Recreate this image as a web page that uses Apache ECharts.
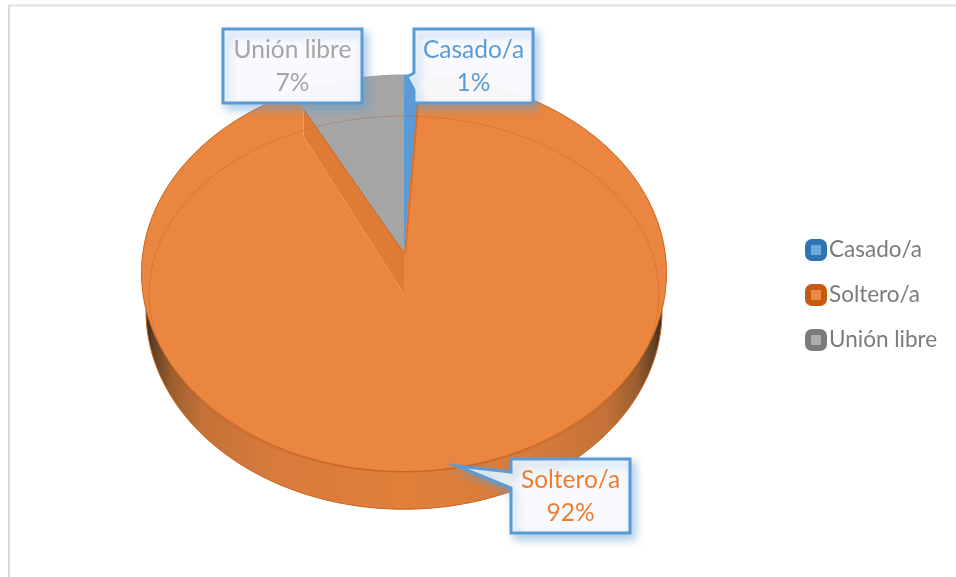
<!DOCTYPE html>
<html>
<head>
<meta charset="utf-8">
<style>html,body{margin:0;padding:0;background:#fff}#c{width:956px;height:577px}</style>
<script src="https://cdn.jsdelivr.net/npm/echarts@6/dist/echarts.min.js"></script>
</head>
<body>
<div id="c"></div>
<script>
const categories = ['Casado/a', 'Soltero/a', 'Unión libre'];
const percents = [1, 92, 7];
const sliceColors = ['#5B9BD5', '#EB8640', '#A5A5A5'];
const labelColors = ['#5B9BD5', '#ED7D31', '#A5A5A5'];
const legendFills = ['#6FA8DC', '#EE8A47', '#ADADAD'];
const legendBorders = ['#2E75B6', '#C55A11', '#7B7B7B'];

const FONT = 'Lato, Carlito, "Noto Sans", sans-serif';
const total = percents.reduce((a, b) => a + b, 0);
const startOf = i => percents.slice(0, i).reduce((a, b) => a + b, 0) / total * Math.PI * 2;

// Layout, in units of the unit-circle axes
const GRID = { left: 141.5, top: 74.5, width: 525, height: 397 };
const FLOOR_Y = 0.10;      // apex of the sunken wedge
const TOP_Y = -0.106;      // apex of the raised surface
const KNEE_T = 0.90;       // where the notch wall meets the rim
const KNEE_DROP = 0.136;
const WALL_DROP = 0.19;
const WALL_RX = 0.983;
const RING = { rx: 0.971, ry: 0.897, cy: -0.106 };

function rim(t) { return [Math.sin(t), Math.cos(t)]; }
function arc(a, b, n) {
  const out = [];
  for (let k = 0; k <= n; k++) out.push(rim(a + (b - a) * k / n));
  return out;
}
function poly(api, pts, style) {
  return { type: 'polygon', shape: { points: pts.map(p => api.coord(p)) }, style };
}
function line(api, pts, style) {
  return { type: 'polyline', shape: { points: pts.map(p => api.coord(p)) }, style: Object.assign({ fill: null }, style) };
}

function renderFlat(i) {
  return function (params, api) {
    const a = startOf(i), b = a + api.value(0) / total * Math.PI * 2;
    return poly(api, [[0, FLOOR_Y]].concat(arc(a, b, 40)), { fill: sliceColors[i], stroke: null });
  };
}

function renderMain(i) {
  return function (params, api) {
    const a = startOf(i), b = a + api.value(0) / total * Math.PI * 2;
    const pEnd = rim(b), pStart = rim(a);
    const q = [pEnd[0] * KNEE_T, FLOOR_Y + (pEnd[1] - FLOOR_Y) * KNEE_T];
    const knee = [q[0], q[1] - KNEE_DROP];
    const surface = arc(a, b, 240).concat([q, knee, [0, TOP_Y], [0, FLOOR_Y]]);
    const wallPts = [];
    for (let k = 0; k <= 120; k++) {
      const t = Math.PI / 2 + Math.PI * k / 120;
      wallPts.push([WALL_RX * Math.sin(t), Math.cos(t) - WALL_DROP]);
    }
    const ringPts = [];
    for (let k = 0; k <= 240; k++) {
      const t = Math.PI * 2 * k / 240;
      ringPts.push([RING.rx * Math.sin(t), RING.cy + RING.ry * Math.cos(t)]);
    }
    return {
      type: 'group',
      children: [
        poly(api, wallPts, {
          stroke: '#C9641C', lineWidth: 1,
          fill: { type: 'linear', x: 0, y: 0, x2: 1, y2: 0, colorStops: [
            { offset: 0, color: '#33281C' }, { offset: 0.015, color: '#5F4026' },
            { offset: 0.05, color: '#9C5E2E' }, { offset: 0.11, color: '#C47238' },
            { offset: 0.25, color: '#D87B3B' }, { offset: 0.5, color: '#E08039' },
            { offset: 0.75, color: '#D87B3B' }, { offset: 0.89, color: '#C47238' },
            { offset: 0.95, color: '#9C5E2E' }, { offset: 0.985, color: '#5F4026' },
            { offset: 1, color: '#33281C' } ] }
        }),
        poly(api, surface, { fill: sliceColors[i], stroke: null }),
        poly(api, [[0, FLOOR_Y], [0, TOP_Y], knee, q], { fill: '#DE7C35', stroke: null }),
        line(api, [[0, FLOOR_Y], q], { stroke: '#C9641C', lineWidth: 1 }),
        line(api, [[0.004, FLOOR_Y], pStart], { stroke: '#DB6F28', lineWidth: 2 }),
        line(api, ringPts, { stroke: 'rgba(150,70,20,0.25)', lineWidth: 1 }),
        line(api, arc(a, b, 240), { stroke: '#C9641C', lineWidth: 1 })
      ]
    };
  };
}

const boxes = [
  { l: 414, r: 533, t: 29, b: 103, tip: [407, 77], py: [73, 90] },
  { l: 511, r: 630, t: 459, b: 533, tip: [457, 466], py: [472, 488] },
  { l: 223, r: 362, t: 29, b: 103 }
];

const callouts = [];
boxes.forEach((bx, i) => {
  const pts = [[bx.l, bx.t], [bx.r, bx.t], [bx.r, bx.b], [bx.l, bx.b]];
  if (bx.tip) pts.push([bx.l, bx.py[1]], bx.tip, [bx.l, bx.py[0]]);
  callouts.push({
    type: 'polygon', z: 100,
    shape: { points: pts },
    style: { fill: 'rgba(252,252,254,0.95)', stroke: '#5B9BD5', lineWidth: 3,
      shadowBlur: 9, shadowOffsetX: 4, shadowOffsetY: 5, shadowColor: 'rgba(91,155,213,0.5)' }
  });
  callouts.push({
    type: 'text', z: 101,
    style: { text: categories[i] + '\n' + percents[i] + '%',
      x: (bx.l + bx.r) / 2, y: (bx.t + bx.b) / 2 + 1, textAlign: 'center', textVerticalAlign: 'middle',
      fontFamily: FONT, fontSize: 24.5, lineHeight: 33, fill: labelColors[i] }
  });
});

const frame = [
  { type: 'line', z: 0, shape: { x1: 8, y1: 5.5, x2: 956, y2: 5.5 }, style: { stroke: '#E2E2E2', lineWidth: 2 } },
  { type: 'line', z: 0, shape: { x1: 9, y1: 5, x2: 9, y2: 577 }, style: { stroke: '#D9D9D9', lineWidth: 2 } }
];

const renderers = [renderFlat(0), renderMain(1), renderFlat(2)];
const order = [2, 0, 1];

const chart = echarts.init(document.getElementById('c'), null, { renderer: 'canvas' });
chart.setOption({
  backgroundColor: '#fff',
  animation: false,
  grid: GRID,
  xAxis: { type: 'value', min: -1, max: 1, show: false },
  yAxis: { type: 'value', min: -1, max: 1, show: false },
  legend: {
    orient: 'vertical', left: 805, top: 238.5, padding: 0, itemWidth: 16, itemHeight: 16, itemGap: 22,
    textStyle: { fontFamily: FONT, fontSize: 22.5, color: '#7B7B7B' },
    data: categories.map((c, i) => ({
      name: c, icon: 'roundRect',
      itemStyle: { color: legendFills[i], borderColor: legendBorders[i], borderWidth: 6 }
    }))
  },
  series: order.map(i => ({
    type: 'custom', name: categories[i], coordinateSystem: 'cartesian2d', silent: true,
    itemStyle: { color: sliceColors[i] },
    renderItem: renderers[i],
    data: [[percents[i]]],
    encode: { value: 0 }
  })),
  graphic: { elements: frame.concat(callouts) }
});
</script>
</body>
</html>
